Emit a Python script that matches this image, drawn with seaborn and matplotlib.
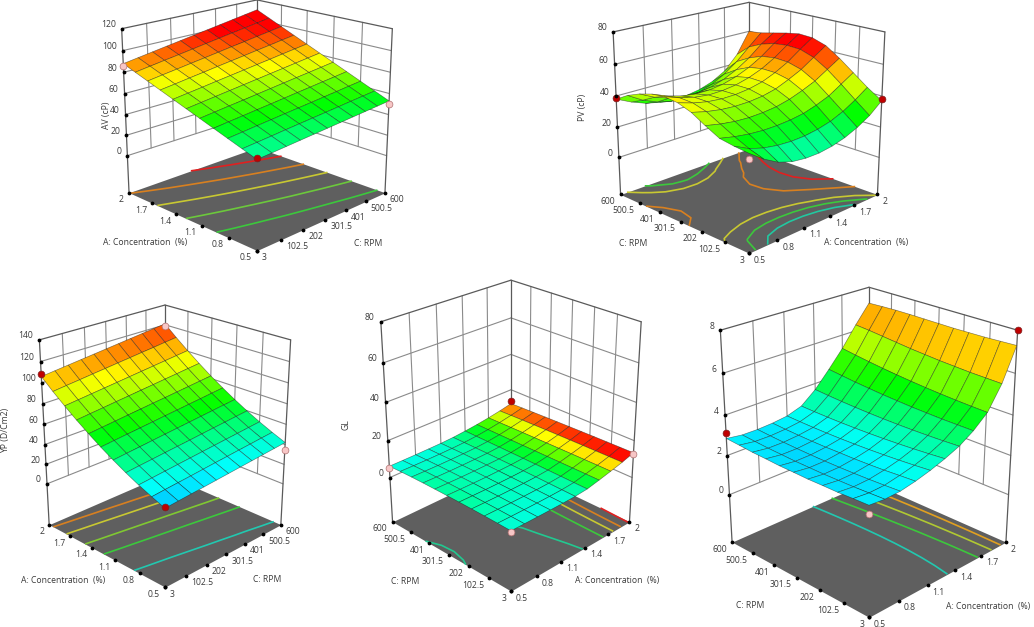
import numpy as np
import matplotlib
matplotlib.use('Agg')
import matplotlib.pyplot as plt
import seaborn as sns
from mpl_toolkits.mplot3d import proj3d

A_GRID = [0.5, 0.65, 0.8, 0.95, 1.1, 1.25, 1.4, 1.55, 1.7, 1.85, 2.0]
C_GRID = [3, 62.7, 122.4, 182.1, 241.8, 301.5, 361.2, 420.9, 480.6, 540.3, 600]
A_TICKS = [0.5, 0.8, 1.1, 1.4, 1.7, 2]
C_TICKS = [3, 102.5, 202, 301.5, 401, 500.5, 600]

# rows follow A_GRID, columns follow C_GRID
AV = [
    [43, 44, 45, 46, 47, 48, 49, 50, 51, 52, 53],
    [47.5, 48.6, 49.7, 50.9, 52, 53.1, 54.2, 55.3, 56.5, 57.6, 58.7],
    [52, 53.2, 54.5, 55.7, 57, 58.2, 59.4, 60.7, 61.9, 63.2, 64.4],
    [56.5, 57.9, 59.2, 60.6, 61.9, 63.3, 64.7, 66, 67.4, 68.7, 70.1],
    [61, 62.5, 64, 65.4, 66.9, 68.4, 69.9, 71.4, 72.8, 74.3, 75.8],
    [65.5, 67.1, 68.7, 70.3, 71.9, 73.5, 75.1, 76.7, 78.3, 79.9, 81.5],
    [70, 71.7, 73.4, 75.2, 76.9, 78.6, 80.3, 82, 83.8, 85.5, 87.2],
    [74.5, 76.3, 78.2, 80, 81.9, 83.7, 85.5, 87.4, 89.2, 91.1, 92.9],
    [79, 81, 82.9, 84.9, 86.8, 88.8, 90.8, 92.7, 94.7, 96.6, 98.6],
    [83.5, 85.6, 87.7, 89.7, 91.8, 93.9, 96, 98.1, 100.1, 102.2, 104.3],
    [88, 90.2, 92.4, 94.6, 96.8, 99, 101.2, 103.4, 105.6, 107.8, 110],
]
PV = [
    [34, 35, 36.5, 41, 46, 49, 50, 49, 46.5, 43, 38],
    [27.5, 30.5, 34.5, 39.1, 43.7, 46.2, 46.7, 45.2, 41.9, 37.4, 33.5],
    [22.5, 27.8, 33.1, 37.8, 42.2, 44.3, 44.4, 42.6, 38.7, 33.6, 30],
    [19.6, 26.3, 32.4, 37.3, 41.5, 43.4, 43.2, 41.3, 37, 31.4, 28],
    [18.5, 25.7, 32.4, 37.6, 41.6, 43.5, 43.4, 41.3, 36.8, 30.8, 27],
    [18.5, 26, 33, 38.5, 42.5, 44.5, 44.5, 42.5, 38, 32, 27.5],
    [19.7, 27.2, 34.3, 40.5, 44.5, 46.5, 46.8, 45, 40.7, 34.8, 29],
    [22, 29.3, 36.8, 43.5, 48, 50, 50.2, 48.7, 44.8, 39.4, 32],
    [25.5, 32.8, 40, 47, 52, 54.5, 55, 53.7, 50.4, 45.6, 37],
    [30.2, 37.5, 45, 52, 57.5, 60.5, 61, 60, 57.5, 53.4, 46],
    [37, 43, 50, 57, 63, 66, 66.5, 65, 63, 61, 60],
]
YP = [
    [32, 33, 34, 35, 36, 37, 38, 39, 40, 41, 42],
    [36.9, 38, 39, 40, 41.1, 42.2, 43.2, 44.3, 45.3, 46.4, 47.4],
    [42.3, 43.4, 44.5, 45.6, 46.7, 47.8, 48.9, 50, 51.1, 52.2, 53.3],
    [48.3, 49.5, 50.6, 51.8, 52.9, 54, 55.2, 56.4, 57.5, 58.7, 59.8],
    [54.9, 56.1, 57.3, 58.5, 59.7, 60.9, 62.1, 63.3, 64.5, 65.7, 66.9],
    [62, 63.3, 64.5, 65.8, 67, 68.3, 69.5, 70.8, 72, 73.3, 74.5],
    [69.7, 71, 72.3, 73.6, 74.9, 76.2, 77.4, 78.7, 80, 81.3, 82.6],
    [77.9, 79.3, 80.6, 82, 83.3, 84.7, 86, 87.4, 88.7, 90.1, 91.4],
    [86.7, 88.1, 89.5, 90.9, 92.3, 93.7, 95.1, 96.5, 97.9, 99.3, 100.7],
    [96, 97.5, 98.9, 100.4, 101.8, 103.3, 104.7, 106.2, 107.6, 109.1, 110.5],
    [106, 107.5, 109, 110.5, 112, 113.5, 115, 116.5, 118, 119.5, 121],
]
GL = [
    [6.4, 6.6, 6.75, 6.86, 6.93, 6.96, 6.95, 6.9, 6.77, 6.55, 6.2],
    [6.35, 6.5, 6.63, 6.72, 6.79, 6.82, 6.81, 6.76, 6.65, 6.46, 6.2],
    [6.3, 6.42, 6.53, 6.62, 6.68, 6.72, 6.71, 6.67, 6.58, 6.44, 6.25],
    [6.3, 6.4, 6.5, 6.6, 6.67, 6.72, 6.73, 6.7, 6.62, 6.5, 6.35],
    [6.35, 6.45, 6.55, 6.65, 6.74, 6.8, 6.82, 6.8, 6.74, 6.64, 6.5],
    [6.5, 6.6, 6.72, 6.82, 6.9, 6.96, 6.99, 6.99, 6.97, 6.93, 6.85],
    [7, 7.08, 7.16, 7.24, 7.3, 7.36, 7.4, 7.43, 7.46, 7.48, 7.5],
    [8.4, 8.4, 8.4, 8.4, 8.38, 8.36, 8.34, 8.33, 8.32, 8.31, 8.3],
    [9.9, 9.88, 9.85, 9.82, 9.78, 9.72, 9.65, 9.58, 9.5, 9.4, 9.3],
    [11.5, 11.46, 11.41, 11.35, 11.28, 11.2, 11.1, 10.98, 10.85, 10.7, 10.5],
    [13.5, 13.42, 13.33, 13.22, 13.09, 12.95, 12.79, 12.62, 12.43, 12.22, 12],
]
R5 = [
    [2.8, 2.77, 2.73, 2.72, 2.7, 2.71, 2.71, 2.74, 2.76, 2.81, 2.85],
    [2.74, 2.7, 2.66, 2.64, 2.62, 2.62, 2.62, 2.64, 2.66, 2.7, 2.74],
    [2.78, 2.73, 2.69, 2.66, 2.64, 2.63, 2.63, 2.64, 2.66, 2.69, 2.73],
    [2.92, 2.87, 2.81, 2.77, 2.74, 2.73, 2.71, 2.71, 2.72, 2.74, 2.77],
    [3.11, 3.04, 2.98, 2.93, 2.89, 2.86, 2.84, 2.83, 2.83, 2.84, 2.86],
    [3.35, 3.28, 3.22, 3.17, 3.13, 3.1, 3.08, 3.07, 3.07, 3.08, 3.1],
    [3.64, 3.6, 3.57, 3.55, 3.54, 3.54, 3.55, 3.57, 3.6, 3.64, 3.69],
    [4.08, 4.08, 4.08, 4.1, 4.12, 4.16, 4.2, 4.26, 4.32, 4.4, 4.48],
    [4.67, 4.69, 4.72, 4.76, 4.81, 4.87, 4.94, 5.02, 5.11, 5.21, 5.32],
    [5.76, 5.78, 5.8, 5.84, 5.88, 5.94, 6, 6.08, 6.16, 6.24, 6.3],
    [7.3, 7.27, 7.24, 7.23, 7.22, 7.23, 7.24, 7.25, 7.25, 7.23, 7.2],
]

# design points: A, C, response
AV_PTS = [(2, 3, 86), (0.5, 600, 50), (0.5, 3, 44)]
PV_PTS = [(0.5, 600, 39), (2, 3, 38), (0.5, 3, 31)]
YP_PTS = [(2, 3, 108), (2, 600, 119), (0.5, 600, 35), (0.5, 3, 33)]
GL_PTS = [(2, 600, 13.5), (0.5, 600, 5), (2, 3, 13), (0.5, 3, 6)]
R5_PTS = [(0.5, 600, 3.1), (2, 3, 8), (0.5, 3, 2.4)]

AV_LEVELS = [56, 66.5, 77, 87.5, 98]
PV_LEVELS = [26, 31, 36, 47, 58]
YP_LEVELS = [45, 62, 75, 90, 102]
GL_LEVELS = [6.9, 9.3, 10.7, 11.9, 13.3]
R5_LEVELS = [3.48, 4.53, 5.58, 6.63]

W, H = 1034, 627
sns.set_theme(style='white')
plt.rcParams['font.family'] = ['Open Sans', 'DejaVu Sans']

fig = plt.figure(figsize=(W / 100, H / 100), dpi=100, facecolor='white')
cmap = sns.blend_palette(['#0000ff', '#00ffff', '#00ff00', '#ffff00', '#ff0000'], as_cmap=True)

TXT = '#3a3a3a'
FS = 6.2


def tick_text(ax, M, x, y, z, s, dx, dy, ha):
    px, py, _ = proj3d.proj_transform(x, y, z, M)
    ax.annotate(s, (px, py), xytext=(dx, dy), textcoords='offset pixels', ha=ha, va='center',
                fontsize=FS, color=TXT, annotation_clip=False)


def draw_panel(values, pts, levels, line_colors, zticks, zfloor, vmin, vmax, swap,
               cx, cy, width, elev, hz, focal=0.6):
    S = width * 0.185 * 10 * np.sqrt(2 + hz ** 2) / (np.sqrt(2) * 1.905)
    left = cx - 0.5135 * S
    bottom = H - cy - 0.5135 * S
    ax = fig.add_axes([left / W, bottom / H, S / W, S / H], projection='3d', computed_zorder=False)
    ax.set_proj_type('persp', focal_length=focal)
    ax.view_init(elev=elev, azim=-135)
    ax.set_box_aspect((1, 1, hz))
    ax.set_axis_off()

    Z = np.array(values, dtype=float)
    if swap:
        X, Y = np.meshgrid(C_GRID, A_GRID)
        xt, yt = C_TICKS, A_TICKS
    else:
        X, Y = np.meshgrid(A_GRID, C_GRID, indexing='ij')
        xt, yt = A_TICKS, C_TICKS
    x0, x1, y0, y1 = X.min(), X.max(), Y.min(), Y.max()
    ztop = zticks[-1]
    ax.set_xlim(x0, x1)
    ax.set_ylim(y0, y1)
    ax.set_zlim(zfloor, ztop)
    M = ax.get_proj()

    # back walls
    wall = dict(color='#8a8a8a', lw=0.8, zorder=1)
    edge = dict(color='#5a5a5a', lw=0.9, zorder=1)
    for t in xt[1:-1]:
        ax.plot([t, t], [y1, y1], [zticks[0], ztop], **wall)
    for t in yt[1:-1]:
        ax.plot([x1, x1], [t, t], [zticks[0], ztop], **wall)
    for t in zticks:
        st = edge if t == ztop else wall
        ax.plot([x0, x1], [y1, y1], [t, t], **st)
        ax.plot([x1, x1], [y0, y1], [t, t], **st)
    ax.plot([x0, x0], [y1, y1], [zfloor, ztop], **edge)
    ax.plot([x1, x1], [y0, y0], [zfloor, ztop], **edge)
    ax.plot([x1, x1], [y1, y1], [zfloor, ztop], **edge)

    # floor and its contour lines
    FX, FY = np.meshgrid([x0, x1], [y0, y1])
    ax.plot_surface(FX, FY, np.full(FX.shape, zfloor), color='#5f5f5f', shade=False,
                    linewidth=0, zorder=2)
    ax.contour(X, Y, Z, levels=levels, zdir='z', offset=zfloor, colors=line_colors,
               linewidths=1.2, zorder=3)

    ax.plot_surface(X, Y, Z, cmap=cmap, vmin=vmin, vmax=vmax, shade=False,
                    edgecolor=(0.1, 0.1, 0.1, 0.55), linewidth=0.45,
                    antialiased=True, zorder=4)

    # design points: red above the surface, pink below it
    for a, c, z in pts:
        i = A_GRID.index(a)
        j = C_GRID.index(c)
        above = z >= Z[i, j]
        px, py = (c, a) if swap else (a, c)
        ax.scatter([px], [py], [z], s=24, c='#c00000' if above else '#f7c6c6',
                   edgecolors='#7a2020' if above else '#b07070', linewidths=0.5,
                   depthshade=False, zorder=5)

    # ticks and their labels
    for t in zticks:
        ax.scatter([x0], [y1], [t], s=3, c='black', depthshade=False, zorder=6)
        tick_text(ax, M, x0, y1, t, f'{t:g}', -6, 4, 'right')
    for t in xt:
        ax.scatter([t], [y0], [zfloor], s=3, c='black', depthshade=False, zorder=6)
        tick_text(ax, M, t, y0, zfloor, f'{t:g}', 5, -7, 'left')
    for t in yt:
        ax.scatter([x0], [t], [zfloor], s=3, c='black', depthshade=False, zorder=6)
        tick_text(ax, M, x0, t, zfloor, f'{t:g}', -5, -7, 'right')
    return ax


CONTOUR_COLORS = ['#22c8a0', '#3cc83c', '#c8c832', '#d88020', '#e02020']

draw_panel(AV, AV_PTS, AV_LEVELS, ['#3cc83c', '#6cc83c', '#c8c832', '#d88020', '#e02020'],
           [0, 20, 40, 60, 80, 100, 120], -37, 15, 100, True, 257, 113, 263, 18.7, 0.93)
draw_panel(PV, PV_PTS, PV_LEVELS, CONTOUR_COLORS,
           [0, 20, 40, 60, 80], -25, 0, 63, False, 749, 115.5, 264, 19, 0.92)
draw_panel(YP, YP_PTS, YP_LEVELS, ['#22c8b0', '#3cc83c', '#80c832', '#c8c832', '#d88020'],
           [0, 20, 40, 60, 80, 100, 120, 140], -43, 11, 125, True, 165, 436, 241, 23.5, 1.18)
draw_panel(GL, GL_PTS, GL_LEVELS, ['#22c890', '#3cc83c', '#c8c832', '#d88020', '#e02020'],
           [0, 20, 40, 60, 80], -25, 3.9, 12.6, False, 511, 426.5, 248, 26.4, 1.27)
draw_panel(R5, R5_PTS, R5_LEVELS, ['#22c8b0', '#3cc83c', '#b0c832', '#e0a020'],
           [0, 2, 4, 6, 8], -2.5, 1.2, 7.9, False, 869, 440.5, 285, 24.2, 1.15)

AXIS_TITLES = [
    ('A: Concentration  (%)', 145, 243, 0), ('C: RPM', 368, 243, 0), ('AV (cP)', 107, 115, 90),
    ('C: RPM', 633, 243, 0), ('A: Concentration  (%)', 866, 243, 0), ('PV (cP)', 582, 107, 90),
    ('A: Concentration  (%)', 63, 580, 0), ('C: RPM', 267, 580, 0), ('YP (D/Cm2)', 6, 430, 90),
    ('C: RPM', 405, 581, 0), ('A: Concentration  (%)', 617, 581, 0), ('GL', 346, 425, 90),
    ('C: RPM', 750, 606, 0), ('A: Concentration  (%)', 988, 606, 0),
]
for s, px, py, rot in AXIS_TITLES:
    fig.text(px / W, 1 - py / H, s, ha='center', va='center', rotation=rot, fontsize=FS, color=TXT)

fig.savefig('out.png', dpi=100)
